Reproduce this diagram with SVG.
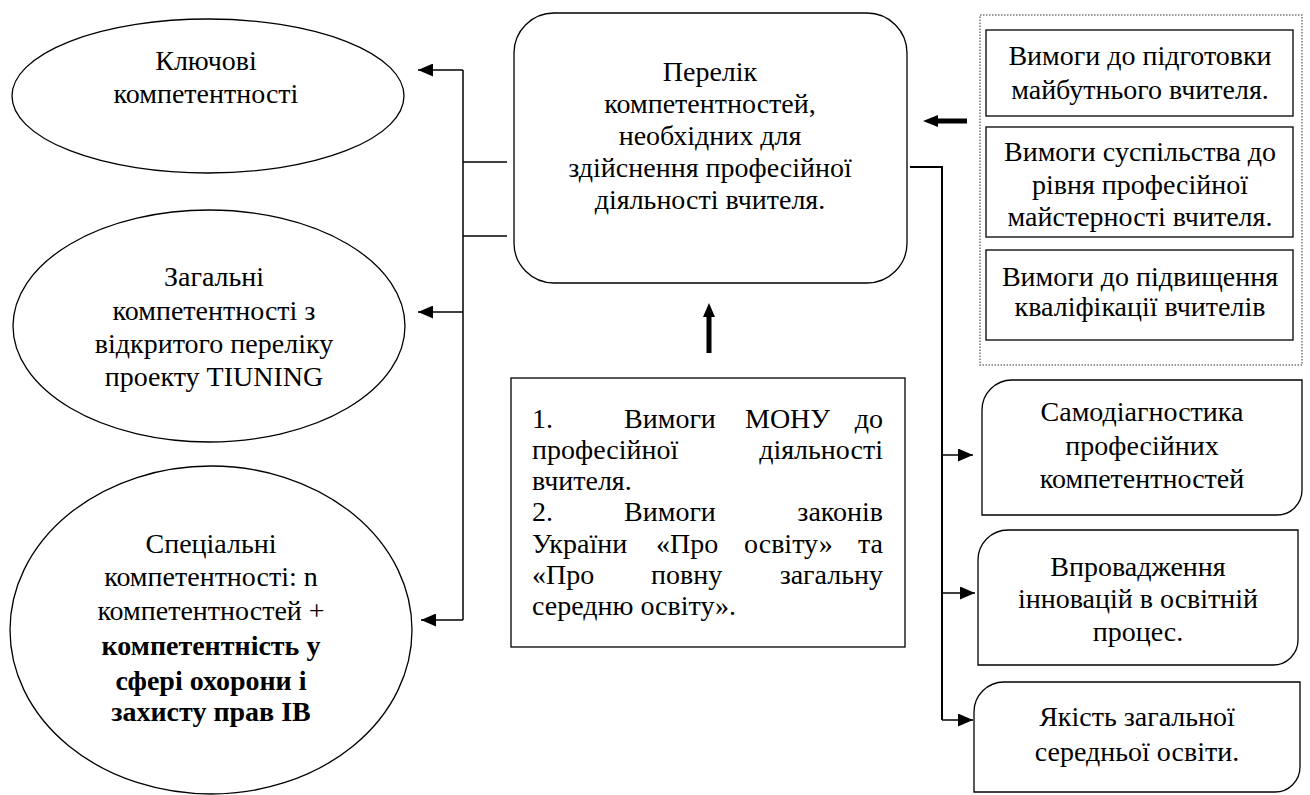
<svg xmlns="http://www.w3.org/2000/svg" width="1310" height="795" viewBox="0 0 1310 795">
<style>
  .t { font-family: "Liberation Serif", "DejaVu Serif", serif; font-size: 28px; fill: #000; }
  .c { text-anchor: middle; }
  .e { text-anchor: end; }
  .b { font-weight: bold; }
  .shape { fill: #fff; stroke: #000; stroke-width: 1.3; }
  .conn { fill: none; stroke: #000; stroke-width: 1.5; }
  .connR { fill: none; stroke: #000; stroke-width: 2; }
  .dot { fill: none; stroke: #777; stroke-width: 1.5; stroke-dasharray: 1.5 1.5; }
</style>
<defs>
  <marker id="ah" markerWidth="15" markerHeight="13" refX="15" refY="6.5" orient="auto" markerUnits="userSpaceOnUse">
    <path d="M0,0 L15,6.5 L0,13 z" fill="#000"/>
  </marker>
</defs>
<rect width="1310" height="795" fill="#fff"/>

<g id="connectors">
  <path class="conn" d="M463,70 V620"/>
  <path class="conn" d="M463,70 H418" marker-end="url(#ah)"/>
  <path class="conn" d="M463,312 H418" marker-end="url(#ah)"/>
  <path class="conn" d="M463,620 H421" marker-end="url(#ah)"/>
  <path class="conn" d="M463,162 H507"/>
  <path class="conn" d="M463,236 H507"/>
  <path class="connR" d="M910,167 H942 V720"/>
  <path class="conn" d="M942,455 H973" marker-end="url(#ah)"/>
  <path class="conn" d="M942,593 H975" marker-end="url(#ah)"/>
  <path class="conn" d="M942,720 H973" marker-end="url(#ah)"/>
  <path d="M967,118.5 H938 V115 L923,121 L938,127 V123.5 H967 z" fill="#000"/>
  <path d="M706.5,353 V317 H703 L709,303 L715,317 H711.5 V353 z" fill="#000"/>
</g>

<g id="n-key">
  <ellipse class="shape" cx="208" cy="96" rx="196" ry="77"/>
  <text class="t c" x="206" y="70">Ключові</text>
  <text class="t c" x="206" y="103">компетентності</text>
</g>

<g id="n-general">
  <ellipse class="shape" cx="209" cy="326" rx="196" ry="116"/>
  <text class="t c" x="214" y="286">Загальні</text>
  <text class="t c" x="214" y="320">компетентності з</text>
  <text class="t c" x="214" y="353">відкритого переліку</text>
  <text class="t c" x="214" y="386">проекту TIUNING</text>
</g>

<g id="n-special">
  <ellipse class="shape" cx="211" cy="630" rx="201" ry="164"/>
  <text class="t c" x="211" y="553">Спеціальні</text>
  <text class="t c" x="211" y="586">компетентності: n</text>
  <text class="t c" x="211" y="620">компетентностей +</text>
  <text class="t c b" x="211" y="655">компетентність у</text>
  <text class="t c b" x="211" y="690">сфері охорони і</text>
  <text class="t c b" x="211" y="721">захисту прав ІВ</text>
</g>

<g id="n-list">
  <rect class="shape" x="514" y="13" width="393" height="270" rx="40" ry="40"/>
  <text class="t c" x="710" y="81">Перелік</text>
  <text class="t c" x="710" y="113">компетентностей,</text>
  <text class="t c" x="710" y="145">необхідних для</text>
  <text class="t c" x="710" y="177">здійснення професійної</text>
  <text class="t c" x="710" y="209">діяльності вчителя.</text>
</g>

<g id="n-laws">
  <rect class="shape" x="511" y="378" width="394" height="269"/>
  <text class="t" x="532" y="428">1.</text>
  <text class="t" x="624" y="428">Вимоги</text>
  <text class="t" x="745" y="428">МОНУ</text>
  <text class="t e" x="883" y="428">до</text>
  <text class="t" x="532" y="459">професійної</text>
  <text class="t e" x="883" y="459">діяльності</text>
  <text class="t" x="532" y="490">вчителя.</text>
  <text class="t" x="532" y="521">2.</text>
  <text class="t" x="624" y="521">Вимоги</text>
  <text class="t e" x="883" y="521">законів</text>
  <text class="t" x="532" y="553">України</text>
  <text class="t" x="656" y="553">«Про</text>
  <text class="t" x="744" y="553">освіту»</text>
  <text class="t e" x="883" y="553">та</text>
  <text class="t" x="532" y="584">«Про</text>
  <text class="t" x="651" y="584">повну</text>
  <text class="t e" x="883" y="584">загальну</text>
  <text class="t" x="532" y="615">середню освіту».</text>
</g>

<g id="n-requirements">
  <rect class="dot" x="980" y="15" width="322" height="350"/>
  <g id="n-req1">
    <rect class="shape" x="986" y="30" width="307" height="86"/>
    <text class="t c" x="1140" y="65">Вимоги до підготовки</text>
    <text class="t c" x="1140" y="99">майбутнього вчителя.</text>
  </g>
  <g id="n-req2">
    <rect class="shape" x="986" y="127" width="307" height="110"/>
    <text class="t c" x="1140" y="161">Вимоги суспільства до</text>
    <text class="t c" x="1140" y="194">рівня професійної</text>
    <text class="t c" x="1140" y="226">майстерності вчителя.</text>
  </g>
  <g id="n-req3">
    <rect class="shape" x="986" y="250" width="307" height="90"/>
    <text class="t c" x="1140" y="286">Вимоги до підвищення</text>
    <text class="t c" x="1140" y="316">кваліфікації вчителів</text>
  </g>
</g>

<g id="n-selfdiag">
  <path class="shape" d="M1012,380 H1302 V490 A25,25 0 0 1 1277,515 H982 V410 A30,30 0 0 1 1012,380 z"/>
  <text class="t c" x="1142" y="421">Самодіагностика</text>
  <text class="t c" x="1142" y="455">професійних</text>
  <text class="t c" x="1142" y="488">компетентностей</text>
</g>

<g id="n-innov">
  <path class="shape" d="M1008,530 H1298 V640 A25,25 0 0 1 1273,665 H978 V560 A30,30 0 0 1 1008,530 z"/>
  <text class="t c" x="1138" y="576">Впровадження</text>
  <text class="t c" x="1138" y="608">інновацій в освітній</text>
  <text class="t c" x="1138" y="641">процес.</text>
</g>

<g id="n-quality">
  <path class="shape" d="M1004,682 H1300 V767 A25,25 0 0 1 1275,792 H974 V712 A30,30 0 0 1 1004,682 z"/>
  <text class="t c" x="1137" y="726">Якість загальної</text>
  <text class="t c" x="1137" y="761">середньої освіти.</text>
</g>
</svg>
